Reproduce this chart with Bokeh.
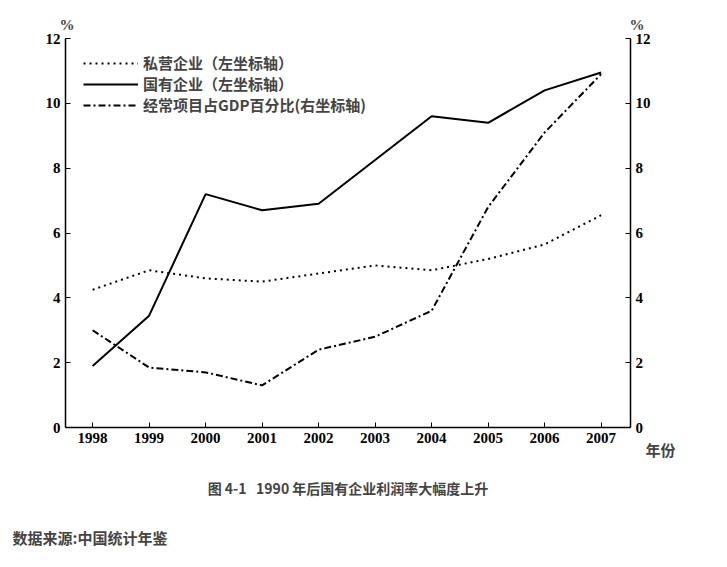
from bokeh.plotting import figure
from bokeh.models import LinearAxis, Range1d, Legend, LegendItem, Title, FixedTicker
from bokeh.embed import file_html
from bokeh.resources import INLINE

years = [1998, 1999, 2000, 2001, 2002, 2003, 2004, 2005, 2006, 2007]
private = [4.25, 4.85, 4.6, 4.5, 4.75, 5.0, 4.85, 5.2, 5.65, 6.55]
state = [1.9, 3.45, 7.2, 6.7, 6.9, 8.25, 9.6, 9.4, 10.4, 10.95]
ca = [3.0, 1.85, 1.7, 1.3, 2.4, 2.8, 3.6, 6.8, 9.1, 10.9]
yticks = [0, 2, 4, 6, 8, 10, 12]

p = figure(width=711, height=559, output_backend="svg", toolbar_location=None,
           x_range=Range1d(1997.52, 2007.52), y_range=Range1d(0, 12),
           min_border_left=65, min_border_right=81, min_border_top=38, min_border_bottom=132)
p.outline_line_color = None
p.grid.visible = False
p.extra_y_ranges = {"r": Range1d(0, 12)}
ra = LinearAxis(y_range_name="r")
p.add_layout(ra, "right")
for ax in [p.yaxis[0], ra]:
    ax.ticker = FixedTicker(ticks=yticks)
for ax in p.axis:
    ax.major_label_text_font = "Liberation Serif"
    ax.major_label_text_font_style = "bold"
    ax.major_label_text_font_size = "15px"
    ax.major_label_text_color = "black"
    ax.axis_line_width = 1.5
    ax.major_tick_in = 5
    ax.major_tick_out = 0
    ax.minor_tick_line_color = None
p.xaxis.ticker = FixedTicker(ticks=years)

r1 = p.line(years, private, line_color="black", line_width=2, line_dash="2 4")
r2 = p.line(years, state, line_color="black", line_width=2)
r3 = p.line(years, ca, line_color="black", line_width=2, line_dash="7 3 2 3")
leg = Legend(items=[LegendItem(label="私营企业（左坐标轴）", renderers=[r1]),
                    LegendItem(label="国有企业（左坐标轴）", renderers=[r2]),
                    LegendItem(label="经常项目占GDP百分比(右坐标轴)", renderers=[r3])],
             location=(18, 312), border_line_color=None, background_fill_alpha=0,
             label_text_font="Noto Sans CJK SC", label_text_font_style="bold",
             label_text_font_size="15px", glyph_width=55, spacing=0, padding=4, margin=0,
             label_height=18, glyph_height=18)
p.add_layout(leg)

p.add_layout(Title(text="%" + "\u00a0" * 148 + "%", text_font="Liberation Serif",
                   text_font_size="15px", text_font_style="bold", align="left",
                   offset=-6, standoff=12), "above")
p.add_layout(Title(text="年份", text_font="Noto Sans CJK SC", text_font_size="15px",
                   text_font_style="bold", align="right", offset=-45, standoff=-18), "below")
p.add_layout(Title(text="图 4-1\u00a0\u00a0\u00a01990 年后国有企业利润率大幅度上升", text_font="Noto Sans CJK SC",
                   text_font_size="14px", text_font_style="bold", align="center",
                   offset=0, standoff=51), "below")
p.add_layout(Title(text="数据来源:中国统计年鉴", text_font="Noto Sans CJK SC", text_font_size="15px",
                   text_font_style="bold", align="left", offset=-53, standoff=3), "below")

open("out.html", "w").write(file_html(p, INLINE))
